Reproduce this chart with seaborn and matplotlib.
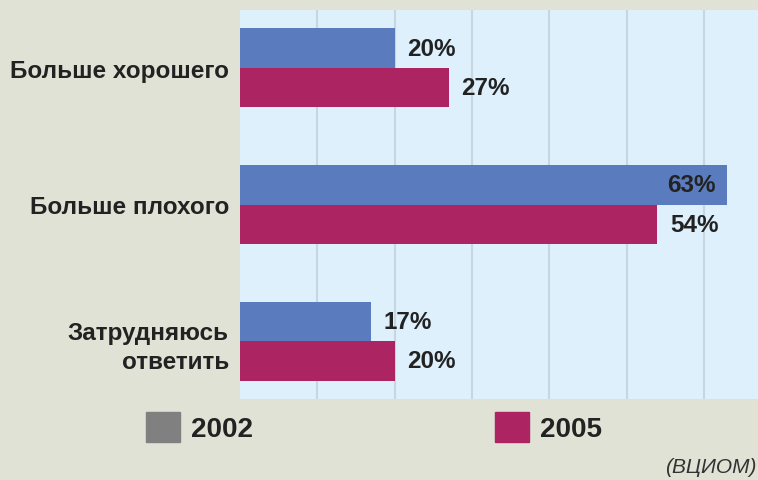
import matplotlib
matplotlib.use("Agg")
import matplotlib.pyplot as plt
import matplotlib.patches as mpatches
import numpy as np
import pandas as pd
import seaborn as sns

# data
categories = ["Больше хорошего", "Больше плохого", "Затрудняюсь\nответить"]
years = ["2002", "2005"]
vals_2002 = [20, 63, 17]
vals_2005 = [27, 54, 20]

bar_colors = {"2002": "#5a7bbd", "2005": "#ad2462"}
legend_colors = {"2002": "#808080", "2005": "#ad2462"}

df = pd.DataFrame({
    "cat": categories * 2,
    "year": [years[0]] * 3 + [years[1]] * 3,
    "val": vals_2002 + vals_2005,
})

sns.set_theme(style="white")
plt.rcParams["font.family"] = ["Liberation Sans", "DejaVu Sans"]

fig = plt.figure(figsize=(7.58, 4.81), dpi=100)
fig.patch.set_facecolor("#dfe2d5")
ax = fig.add_axes([240 / 758, 1 - 400 / 481, 518 / 758, 389 / 481])
ax.set_facecolor("#ddf0fb")

sns.barplot(data=df, y="cat", x="val", hue="year", orient="h",
            palette=bar_colors, width=0.57, ax=ax, legend=False,
            saturation=1, edgecolor="none")

ax.set_xlim(0, 67)
ax.set_ylim(2.42, -0.42)
ax.set_xticks(np.arange(10, 70, 10))
ax.set_xticklabels([])
ax.grid(axis="x", color="#c8d6df", linewidth=1.5)
ax.grid(axis="y", visible=False)
ax.set_axisbelow(True)
for s in ax.spines.values():
    s.set_visible(False)
ax.tick_params(axis="both", length=0)
ax.set_xlabel("")
ax.set_ylabel("")
ax.set_yticks(range(len(categories)))
ax.set_yticklabels(categories, fontsize=17.5, fontweight="bold",
                   color="#222222", ha="right", linespacing=1.35)
ax.tick_params(axis="y", pad=8)

# value labels
for cont in ax.containers:
    for bar in cont:
        w = bar.get_width()
        yc = bar.get_y() + bar.get_height() / 2
        if w > 60:
            ax.annotate(f"{w:.0f}%", (w, yc), xytext=(-8, 0),
                        textcoords="offset points", ha="right", va="center",
                        fontsize=17.5, fontweight="bold", color="#222222")
        else:
            ax.annotate(f"{w:.0f}%", (w, yc), xytext=(9, 0),
                        textcoords="offset points", ha="left", va="center",
                        fontsize=17.5, fontweight="bold", color="#222222")

handles = [mpatches.Patch(color=legend_colors[y], label=y) for y in years]
fig.legend(handles=handles, ncol=2, loc="upper left",
           bbox_to_anchor=(146 / 758, 1 - 413 / 481), frameon=False,
           prop={"size": 20, "weight": "bold"}, handlelength=1.22,
           handleheight=1.3, handletextpad=0.4, columnspacing=8.7,
           borderpad=0, borderaxespad=0, labelcolor="#222222")

fig.text(0.998, 1 - 468 / 481, "(ВЦИОМ)", ha="right", va="center",
         fontsize=15, style="italic", color="#333333")

fig.savefig("out.png", dpi=100, facecolor=fig.get_facecolor())
